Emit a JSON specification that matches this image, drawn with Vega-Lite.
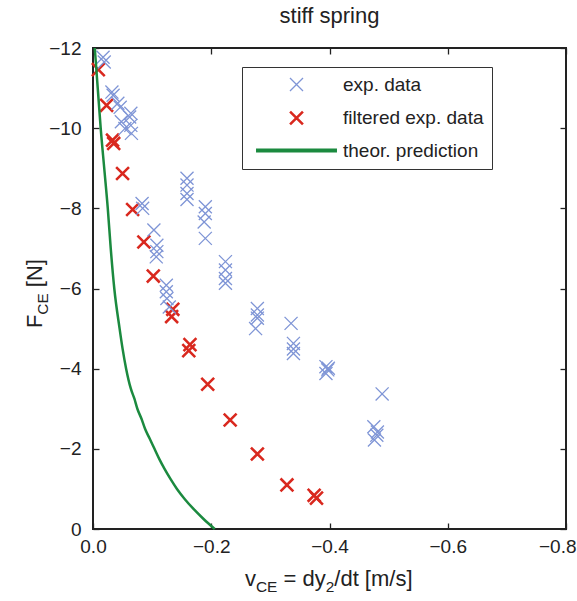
{
  "$schema": "https://vega.github.io/schema/vega-lite/v6.json",
  "width": 473,
  "height": 481,
  "autosize": "none",
  "padding": {"left": 93, "top": 48, "right": 11, "bottom": 72},
  "background": "white",
  "title": {"text": "stiff spring", "fontSize": 22, "font": "Liberation Sans", "fontWeight": "normal", "color": "#222", "offset": 11, "anchor": "middle"},
  "datasets": {
    "pts": [
      {"v": -0.009, "F": -11.46, "series": "filtered exp. data"},
      {"v": -0.023, "F": -10.57, "series": "filtered exp. data"},
      {"v": -0.033, "F": -9.70, "series": "filtered exp. data"},
      {"v": -0.035, "F": -9.62, "series": "filtered exp. data"},
      {"v": -0.050, "F": -8.87, "series": "filtered exp. data"},
      {"v": -0.067, "F": -7.97, "series": "filtered exp. data"},
      {"v": -0.086, "F": -7.16, "series": "filtered exp. data"},
      {"v": -0.102, "F": -6.31, "series": "filtered exp. data"},
      {"v": -0.133, "F": -5.30, "series": "filtered exp. data"},
      {"v": -0.135, "F": -5.48, "series": "filtered exp. data"},
      {"v": -0.162, "F": -4.45, "series": "filtered exp. data"},
      {"v": -0.164, "F": -4.60, "series": "filtered exp. data"},
      {"v": -0.194, "F": -3.61, "series": "filtered exp. data"},
      {"v": -0.232, "F": -2.72, "series": "filtered exp. data"},
      {"v": -0.278, "F": -1.87, "series": "filtered exp. data"},
      {"v": -0.328, "F": -1.10, "series": "filtered exp. data"},
      {"v": -0.374, "F": -0.84, "series": "filtered exp. data"},
      {"v": -0.378, "F": -0.77, "series": "filtered exp. data"},
      {"v": -0.017, "F": -11.77, "series": "exp. data"},
      {"v": -0.019, "F": -11.65, "series": "exp. data"},
      {"v": -0.032, "F": -10.90, "series": "exp. data"},
      {"v": -0.034, "F": -10.82, "series": "exp. data"},
      {"v": -0.042, "F": -10.62, "series": "exp. data"},
      {"v": -0.046, "F": -10.52, "series": "exp. data"},
      {"v": -0.062, "F": -10.28, "series": "exp. data"},
      {"v": -0.064, "F": -10.37, "series": "exp. data"},
      {"v": -0.048, "F": -10.16, "series": "exp. data"},
      {"v": -0.064, "F": -10.07, "series": "exp. data"},
      {"v": -0.054, "F": -9.99, "series": "exp. data"},
      {"v": -0.065, "F": -9.87, "series": "exp. data"},
      {"v": -0.083, "F": -8.12, "series": "exp. data"},
      {"v": -0.084, "F": -8.00, "series": "exp. data"},
      {"v": -0.159, "F": -8.75, "series": "exp. data"},
      {"v": -0.159, "F": -8.58, "series": "exp. data"},
      {"v": -0.159, "F": -8.37, "series": "exp. data"},
      {"v": -0.159, "F": -8.22, "series": "exp. data"},
      {"v": -0.190, "F": -8.04, "series": "exp. data"},
      {"v": -0.190, "F": -7.87, "series": "exp. data"},
      {"v": -0.188, "F": -7.66, "series": "exp. data"},
      {"v": -0.190, "F": -7.25, "series": "exp. data"},
      {"v": -0.103, "F": -7.46, "series": "exp. data"},
      {"v": -0.108, "F": -7.08, "series": "exp. data"},
      {"v": -0.108, "F": -6.92, "series": "exp. data"},
      {"v": -0.107, "F": -6.79, "series": "exp. data"},
      {"v": -0.224, "F": -6.67, "series": "exp. data"},
      {"v": -0.224, "F": -6.46, "series": "exp. data"},
      {"v": -0.224, "F": -6.25, "series": "exp. data"},
      {"v": -0.224, "F": -6.13, "series": "exp. data"},
      {"v": -0.124, "F": -6.08, "series": "exp. data"},
      {"v": -0.124, "F": -5.92, "series": "exp. data"},
      {"v": -0.125, "F": -5.75, "series": "exp. data"},
      {"v": -0.129, "F": -5.54, "series": "exp. data"},
      {"v": -0.278, "F": -5.50, "series": "exp. data"},
      {"v": -0.278, "F": -5.34, "series": "exp. data"},
      {"v": -0.278, "F": -5.26, "series": "exp. data"},
      {"v": -0.275, "F": -5.00, "series": "exp. data"},
      {"v": -0.335, "F": -5.13, "series": "exp. data"},
      {"v": -0.339, "F": -4.63, "series": "exp. data"},
      {"v": -0.339, "F": -4.49, "series": "exp. data"},
      {"v": -0.339, "F": -4.38, "series": "exp. data"},
      {"v": -0.394, "F": -4.05, "series": "exp. data"},
      {"v": -0.397, "F": -3.97, "series": "exp. data"},
      {"v": -0.394, "F": -3.88, "series": "exp. data"},
      {"v": -0.398, "F": -4.01, "series": "exp. data"},
      {"v": -0.489, "F": -3.37, "series": "exp. data"},
      {"v": -0.475, "F": -2.55, "series": "exp. data"},
      {"v": -0.480, "F": -2.34, "series": "exp. data"},
      {"v": -0.476, "F": -2.22, "series": "exp. data"},
      {"v": -0.481, "F": -2.42, "series": "exp. data"}
    ],
    "curve": [
      {"v": -0.003, "F": -12, "series": "theor. prediction"},
      {"v": -0.008, "F": -11, "series": "theor. prediction"},
      {"v": -0.013, "F": -10, "series": "theor. prediction"},
      {"v": -0.019, "F": -9, "series": "theor. prediction"},
      {"v": -0.025, "F": -8, "series": "theor. prediction"},
      {"v": -0.030, "F": -7, "series": "theor. prediction"},
      {"v": -0.036, "F": -6, "series": "theor. prediction"},
      {"v": -0.045, "F": -5, "series": "theor. prediction"},
      {"v": -0.050, "F": -4.5, "series": "theor. prediction"},
      {"v": -0.056, "F": -4, "series": "theor. prediction"},
      {"v": -0.064, "F": -3.5, "series": "theor. prediction"},
      {"v": -0.070, "F": -3.25, "series": "theor. prediction"},
      {"v": -0.075, "F": -3, "series": "theor. prediction"},
      {"v": -0.082, "F": -2.75, "series": "theor. prediction"},
      {"v": -0.088, "F": -2.5, "series": "theor. prediction"},
      {"v": -0.096, "F": -2.25, "series": "theor. prediction"},
      {"v": -0.104, "F": -2, "series": "theor. prediction"},
      {"v": -0.112, "F": -1.75, "series": "theor. prediction"},
      {"v": -0.121, "F": -1.5, "series": "theor. prediction"},
      {"v": -0.131, "F": -1.25, "series": "theor. prediction"},
      {"v": -0.142, "F": -1, "series": "theor. prediction"},
      {"v": -0.155, "F": -0.75, "series": "theor. prediction"},
      {"v": -0.170, "F": -0.5, "series": "theor. prediction"},
      {"v": -0.187, "F": -0.25, "series": "theor. prediction"},
      {"v": -0.206, "F": 0, "series": "theor. prediction"}
    ]
  },
  "resolve": {"scale": {"x": "shared", "y": "shared"}, "axis": {"x": "independent", "y": "independent"}},
  "layer": [
    {
      "data": {"name": "pts"},
      "mark": {"type": "point", "filled": false, "opacity": 1},
      "encoding": {
        "x": {"field": "v", "type": "quantitative", "scale": {"domain": [-0.8, 0], "reverse": true, "nice": false, "zero": false},
              "axis": {"orient": "bottom", "title": null, "values": [0, -0.2, -0.4, -0.6, -0.8], "labelPadding": 14, "labelFlush": false, "labelOverlap": false,
                       "labelAlign": {"condition": {"test": "datum.value === -0.8", "value": "right"}, "value": "center"},
                       "labelOffset": {"condition": {"test": "datum.value === -0.8", "value": 10}, "value": 0}}},
        "y": {"field": "F", "type": "quantitative", "scale": {"domain": [-12, 0], "reverse": true, "nice": false, "zero": false},
              "axis": {"orient": "left", "title": null, "values": [0, -2, -4, -6, -8, -10, -12], "labelPadding": 18, "labelFlush": false, "labelOverlap": false}},
        "color": {"field": "series", "type": "nominal",
                  "scale": {"domain": ["exp. data", "filtered exp. data", "theor. prediction"], "range": ["#7f95d6", "#d9281e", "#1b8a3f"]},
                  "legend": {"orient": "none", "legendX": 149, "legendY": 19, "title": null, "strokeColor": "#333", "fillColor": "white", "padding": 8,
                             "labelFont": "Liberation Sans", "labelFontSize": 19, "labelColor": "#222", "labelOffset": 37, "symbolOffset": 37, "labelLimit": 300,
                             "rowPadding": 10.5}},
        "shape": {"field": "series", "type": "nominal",
                  "scale": {"domain": ["exp. data", "filtered exp. data", "theor. prediction"], "range": ["M-1,-1L1,1M-1,1L1,-1", "M-1,-1L1,1M-1,1L1,-1", "M-6.4,0L6.4,0"]}},
        "size": {"field": "series", "type": "nominal",
                 "scale": {"domain": ["exp. data", "filtered exp. data", "theor. prediction"], "range": [170, 160, 160]}},
        "strokeWidth": {"field": "series", "type": "nominal",
                        "scale": {"domain": ["exp. data", "filtered exp. data", "theor. prediction"], "range": [1.3, 3.8, 2.5]}}
      }
    },
    {
      "data": {"name": "curve"},
      "mark": {"type": "line", "strokeWidth": 2.5, "interpolate": "monotone"},
      "encoding": {
        "x": {"field": "v", "type": "quantitative", "axis": null},
        "y": {"field": "F", "type": "quantitative", "axis": null},
        "color": {"field": "series", "type": "nominal"}
      }
    },
    {
      "data": {"name": "curve"},
      "mark": {"type": "point", "opacity": 0},
      "encoding": {
        "x": {"field": "v", "type": "quantitative", "axis": {"orient": "top", "title": null, "labels": false, "values": [0, -0.2, -0.4, -0.6, -0.8]}},
        "y": {"field": "F", "type": "quantitative", "axis": {"orient": "right", "title": null, "labels": false, "values": [0, -2, -4, -6, -8, -10, -12]}}
      }
    },
    {
      "data": {"values": [{}]},
      "layer": [
        {"mark": {"type": "text", "text": "v", "align": "left", "baseline": "alphabetic", "fontSize": 22, "dx": -84.5, "dy": 57, "color": "#222"}},
        {"mark": {"type": "text", "text": "CE", "align": "left", "baseline": "alphabetic", "fontSize": 15.4, "dx": -73.5, "dy": 63, "color": "#222"}},
        {"mark": {"type": "text", "text": "= dy", "align": "left", "baseline": "alphabetic", "fontSize": 22, "dx": -46, "dy": 57, "color": "#222"}},
        {"mark": {"type": "text", "text": "2", "align": "left", "baseline": "alphabetic", "fontSize": 15.4, "dx": -3.8, "dy": 63, "color": "#222"}},
        {"mark": {"type": "text", "text": "/dt [m/s]", "align": "left", "baseline": "alphabetic", "fontSize": 22, "dx": 4.8, "dy": 57, "color": "#222"}}
      ],
      "encoding": {
        "x": {"datum": -0.4, "type": "quantitative", "axis": null},
        "y": {"datum": 0, "type": "quantitative", "axis": null}
      }
    },
    {
      "data": {"values": [{}]},
      "layer": [
        {"mark": {"type": "text", "text": "F", "angle": 270, "align": "left", "baseline": "alphabetic", "fontSize": 22, "dx": -39.6, "dy": -51, "color": "#222"}},
        {"mark": {"type": "text", "text": "CE", "angle": 270, "align": "left", "baseline": "alphabetic", "fontSize": 15.4, "dx": -26.2, "dy": -45, "color": "#222"}},
        {"mark": {"type": "text", "text": "[N]", "angle": 270, "align": "left", "baseline": "alphabetic", "fontSize": 22, "dx": 1.3, "dy": -51, "color": "#222"}}
      ],
      "encoding": {
        "x": {"datum": 0, "type": "quantitative", "axis": null},
        "y": {"datum": -6, "type": "quantitative", "axis": null}
      }
    }
  ],
  "config": {
    "font": "Liberation Sans",
    "view": {"stroke": "#222", "strokeWidth": 2},
    "axis": {"domain": false, "grid": false, "tickColor": "#222", "tickSize": -6, "tickWidth": 1.3, "labelFont": "Liberation Sans", "labelFontSize": 19, "labelColor": "#222"}
  }
}
